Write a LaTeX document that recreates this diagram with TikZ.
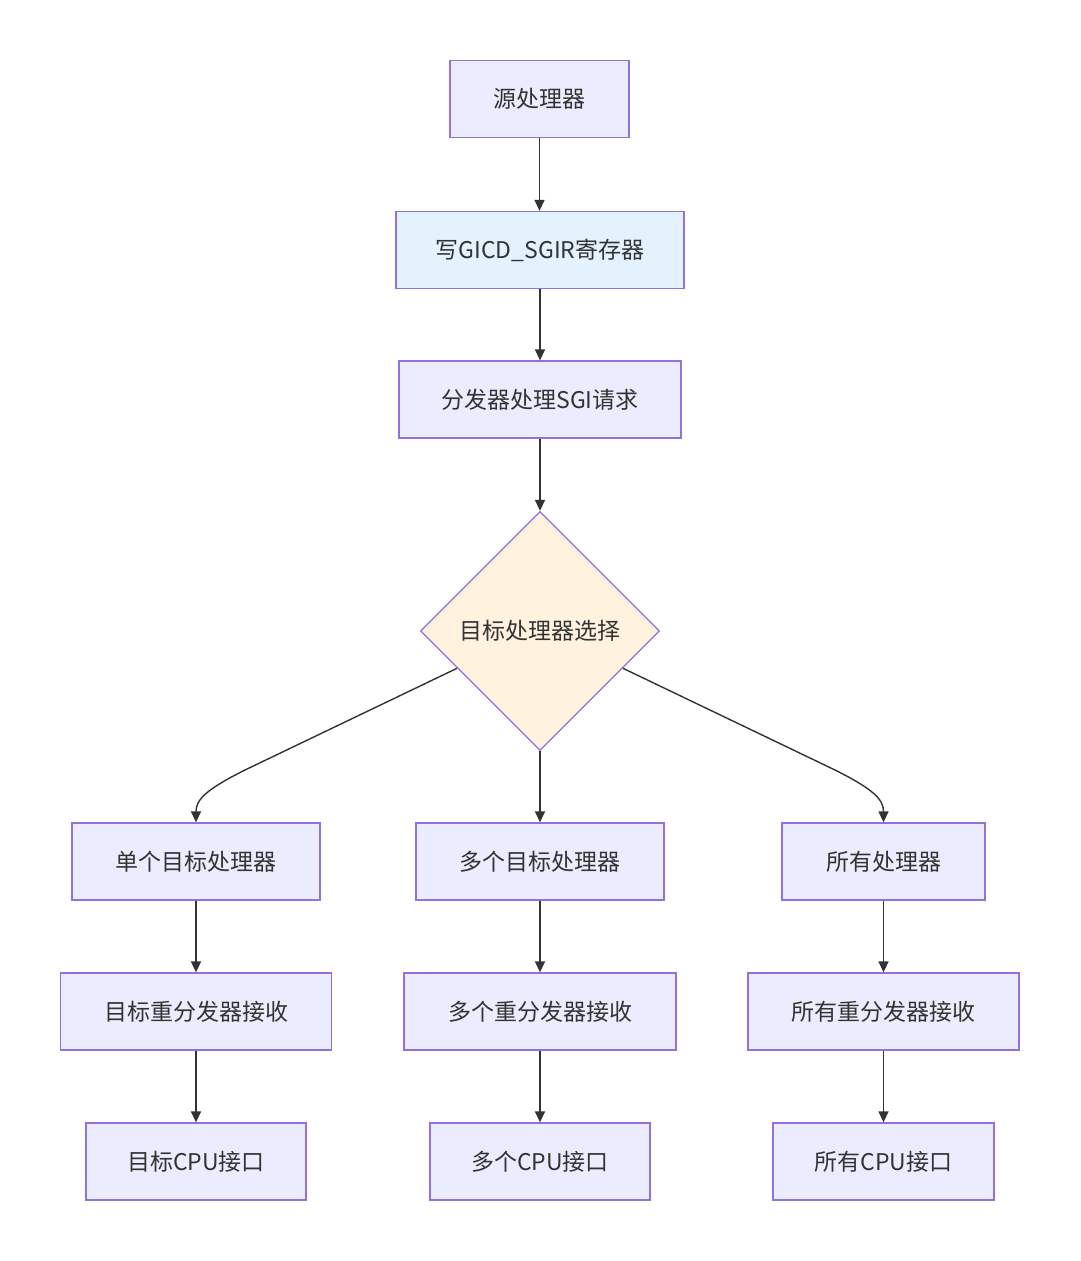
\documentclass[tikz,border=0pt]{standalone}
\usepackage{fontspec}
\setmainfont{Noto Sans CJK SC}
\usetikzlibrary{shapes.geometric,arrows.meta,calc}
\definecolor{boxfill}{HTML}{ECECFF}
\definecolor{boxline}{HTML}{9370DB}
\definecolor{bluefill}{HTML}{E3F2FD}
\definecolor{orangefill}{HTML}{FFF3E0}
\definecolor{edge}{HTML}{333333}
\begin{document}
\begin{tikzpicture}[x=1pt,y=-1pt,
  box/.style={draw=boxline,fill=boxfill,line width=1.3pt,minimum height=77pt,inner sep=0pt,
    font=\fontsize{23}{27}\selectfont,text=edge},
  dec/.style={draw=boxline,fill=orangefill,line width=1.3pt,diamond,aspect=1,
    minimum width=239pt,minimum height=239pt,inner sep=0pt,font=\fontsize{23}{27}\selectfont,text=edge},
  conn/.style={draw=edge,line width=1.4pt,-{Triangle[length=11pt,width=10pt]}}]
\useasboundingbox (0,0) rectangle (1080,1261);
\fill[white] (0,0) rectangle (1080,1261);
\node[box,minimum width=179pt] (src) at (539.5,99) {源处理器};
\node[box,minimum width=288pt,fill=bluefill] (wr) at (540,250) {写GICD\_SGIR寄存器};
\node[box,minimum width=282pt] (dist) at (540,399.5) {分发器处理SGI请求};
\node[dec] (sel) at (540,631) {目标处理器选择};
\node[box,minimum width=248pt] (a1) at (196,861.5) {单个目标处理器};
\node[box,minimum width=248pt] (b1) at (540,861.5) {多个目标处理器};
\node[box,minimum width=203pt] (c1) at (883.5,861.5) {所有处理器};
\node[box,minimum width=271pt] (a2) at (196,1011.5) {目标重分发器接收};
\node[box,minimum width=272pt] (b2) at (540,1011.5) {多个重分发器接收};
\node[box,minimum width=271pt] (c2) at (883.5,1011.5) {所有重分发器接收};
\node[box,minimum width=220pt] (a3) at (196,1161.5) {目标CPU接口};
\node[box,minimum width=220pt] (b3) at (540,1161.5) {多个CPU接口};
\node[box,minimum width=221pt] (c3) at (883.5,1161.5) {所有CPU接口};
\draw[conn] (src.south) -- (src.south |- wr.north);
\draw[conn] (wr.south) -- (dist.north);
\draw[conn] (dist.south) -- (sel.north);
\coordinate (sl) at ($(sel.west)!0.31!(sel.south)$);
\coordinate (sr) at ($(sel.east)!0.31!(sel.south)$);
\draw[conn] (sl) -- (245,770) .. controls (205,790) and (196,800) .. (a1.north);
\draw[conn] (sel.south) -- (b1.north);
\draw[conn] (sr) -- (835,770) .. controls (875,790) and (883.5,800) .. (c1.north);
\draw[conn] (a1) -- (a2);
\draw[conn] (b1) -- (b2);
\draw[conn] (c1) -- (c2);
\draw[conn] (a2) -- (a3);
\draw[conn] (b2) -- (b3);
\draw[conn] (c2) -- (c3);
\end{tikzpicture}
\end{document}
